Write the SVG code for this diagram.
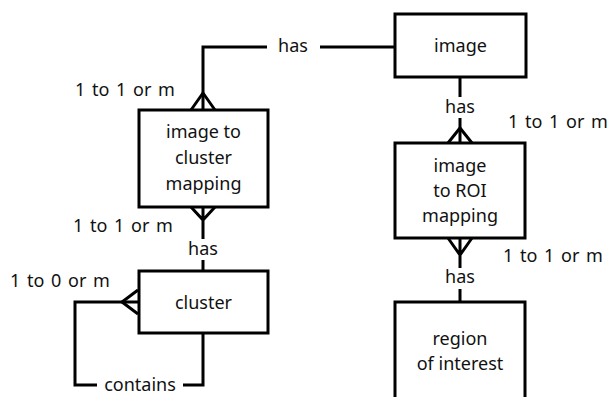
<svg xmlns="http://www.w3.org/2000/svg" width="608" height="397" viewBox="0 0 608 397">
  <style>
    .box { fill: #ffffff; stroke: #000000; stroke-width: 3; }
    .wire { fill: none; stroke: #000000; stroke-width: 3; stroke-linejoin: miter; }
    text { font-family: "Noto Sans", "Open Sans", sans-serif; font-size: 18px; fill: #111111; }
    .c { text-anchor: middle; }
    .card { word-spacing: 2px; }
  </style>
  <rect width="608" height="397" fill="#ffffff"/>

  <g id="connectors">
    <!-- image to image-to-cluster-mapping -->
    <path class="wire" d="M395 47 H320 M267 47 H203 V110"/>
    <path class="wire" d="M191 110 L203 93 L215 110"/>
    <text x="293" y="52" class="c">has</text>
    <text x="75" y="96" class="card">1 to 1 or m</text>

    <!-- image-to-cluster-mapping to cluster -->
    <path class="wire" d="M191 207 L203 220 L215 207 M203 207 V239 M203 260 V271"/>
    <text x="203" y="255" class="c">has</text>
    <text x="73" y="232" class="card">1 to 1 or m</text>

    <!-- cluster self-relation -->
    <path class="wire" d="M138 290 L122 302 L138 314"/>
    <path class="wire" d="M138 302 H75 V385 H97 M183 385 H203 V333"/>
    <text x="140" y="391" class="c">contains</text>
    <text x="10" y="287" class="card">1 to 0 or m</text>

    <!-- image to image-to-ROI-mapping -->
    <path class="wire" d="M460 77 V97 M460 118 V143"/>
    <path class="wire" d="M448 143 L460 128 L472 143"/>
    <text x="460" y="113" class="c">has</text>
    <text x="508" y="128" class="card">1 to 1 or m</text>

    <!-- image-to-ROI-mapping to region of interest -->
    <path class="wire" d="M448 238 L460 255 L472 238 M460 238 V268 M460 289 V302"/>
    <text x="460" y="283" class="c">has</text>
    <text x="503" y="262" class="card">1 to 1 or m</text>
  </g>

  <g id="image">
    <rect class="box" x="395" y="14" width="131" height="63"/>
    <text x="460.5" y="52" class="c">image</text>
  </g>

  <g id="image-cluster-mapping">
    <rect class="box" x="139" y="110" width="129" height="97"/>
    <text x="203.5" y="138" class="c">image to</text>
    <text x="203.5" y="164" class="c">cluster</text>
    <text x="203.5" y="190" class="c">mapping</text>
  </g>

  <g id="cluster">
    <rect class="box" x="139" y="271" width="129" height="62"/>
    <text x="203.5" y="309" class="c">cluster</text>
  </g>

  <g id="image-roi-mapping">
    <rect class="box" x="395" y="143" width="130" height="95"/>
    <text x="460" y="172" class="c">image</text>
    <text x="460" y="197" class="c">to ROI</text>
    <text x="460" y="222" class="c">mapping</text>
  </g>

  <g id="region-of-interest">
    <rect class="box" x="395" y="302" width="130" height="110"/>
    <text x="460" y="345" class="c">region</text>
    <text x="460" y="370" class="c">of interest</text>
  </g>
</svg>
